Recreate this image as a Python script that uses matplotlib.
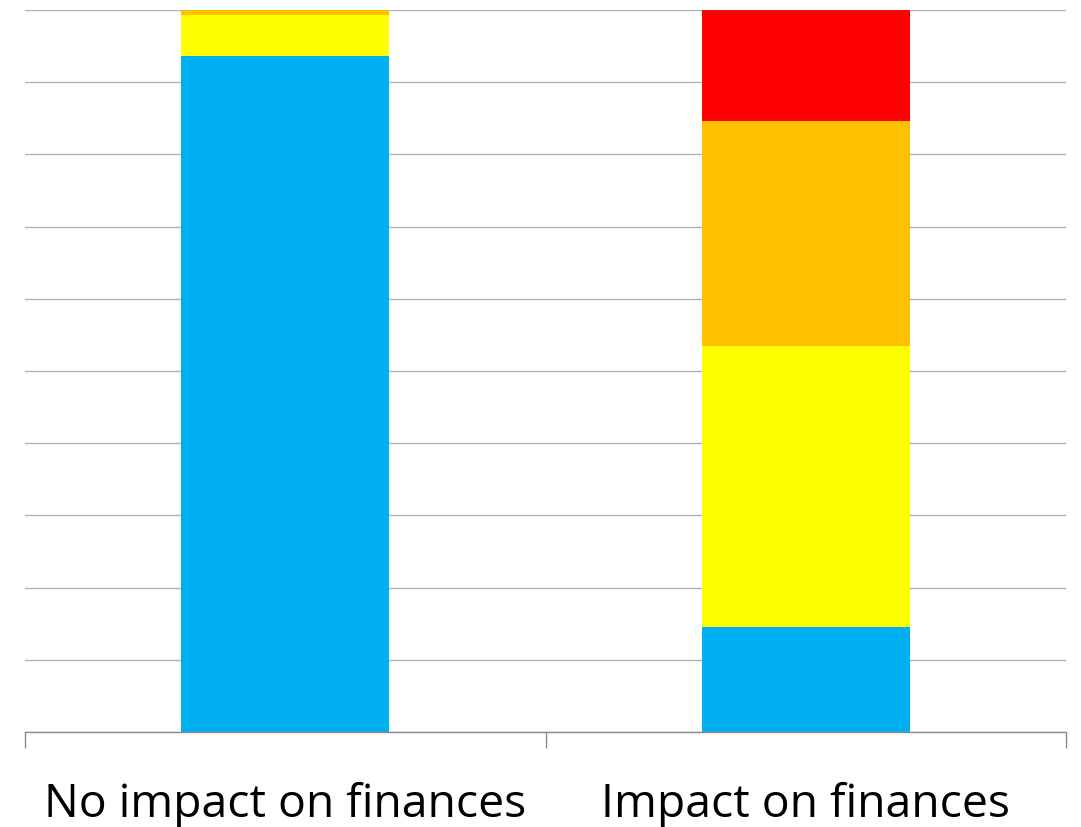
import matplotlib.pyplot as plt
import numpy as np

# Share of respondents by group (percent), stacked bottom to top
categories = ['No impact on finances', 'Impact on finances']
blue_vals = [93.6, 14.5]
yellow_vals = [5.7, 38.9]
orange_vals = [0.7, 31.2]
red_vals = [0.0, 15.4]

series = [blue_vals, yellow_vals, orange_vals, red_vals]
colors = ['#00B0F0', '#FFFF00', '#FFC000', '#FF0000']

fig = plt.figure(figsize=(10.81, 8.28), dpi=100)
ax = fig.add_axes([25 / 1081, (828 - 733) / 828, (1066 - 25) / 1081, 722 / 828])

x = np.arange(len(categories))
bottom = np.zeros(len(categories))
for vals, c in zip(series, colors):
    ax.bar(x, vals, width=0.4, bottom=bottom, color=c, zorder=2)
    bottom += np.array(vals)

ax.set_xlim(-0.5, 1.5)
ax.set_ylim(0, 100)
ax.set_yticks(np.arange(0, 101, 10))
ax.yaxis.grid(True, color='#b3b3b3', linewidth=1.0, zorder=0)
ax.tick_params(axis='y', length=0, labelleft=False)

for side in ['top', 'right', 'left']:
    ax.spines[side].set_visible(False)
ax.spines['bottom'].set_color('#8c8c8c')
ax.spines['bottom'].set_linewidth(1.0)

ax.set_xticks(x)
ax.set_xticklabels(categories, fontsize=33.3, family='Open Sans')
ax.set_xticks([-0.5, 0.5, 1.5], minor=True)
ax.tick_params(axis='x', which='major', length=0, pad=35)
ax.tick_params(axis='x', which='minor', length=11.5, color='#8c8c8c', width=1.0)

fig.savefig('out.png', dpi=100)
